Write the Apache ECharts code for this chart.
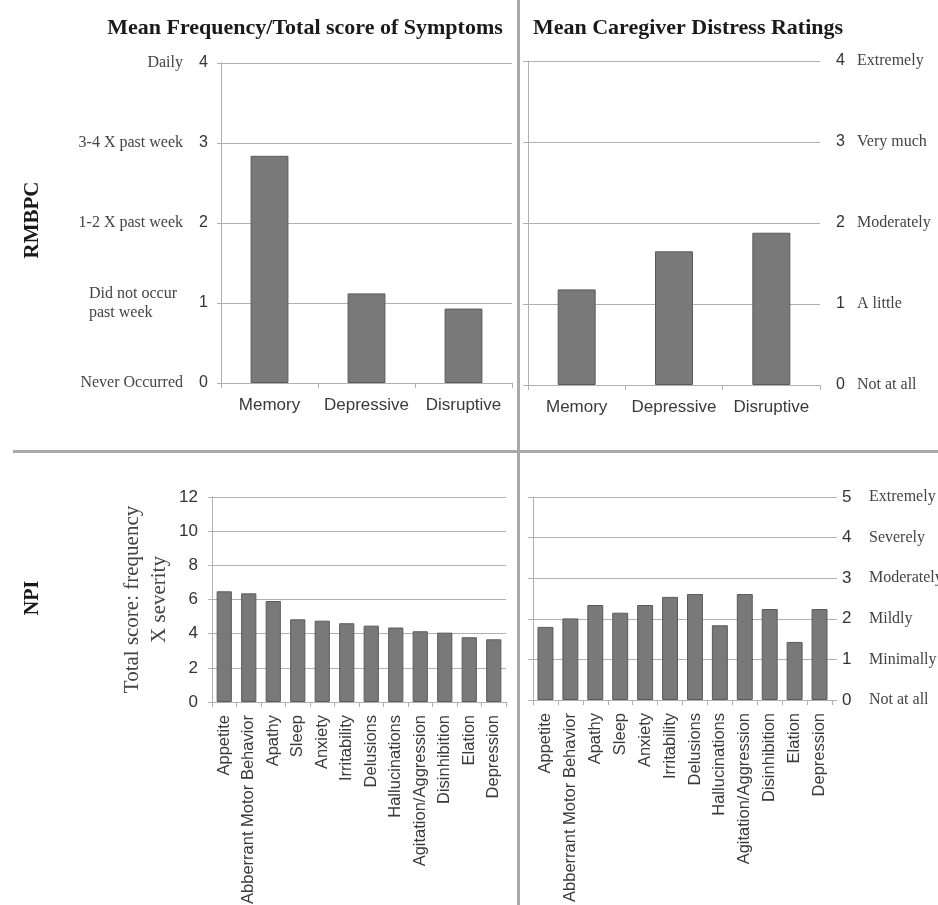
<!DOCTYPE html>
<html>
<head>
<meta charset="utf-8">
<style>
  html, body { margin: 0; padding: 0; background: #ffffff; }
  #chart { width: 938px; height: 905px; }
</style>
<script src="https://cdn.jsdelivr.net/npm/echarts@6/dist/echarts.min.js"></script>
</head>
<body>
<div id="chart"></div>
<script>
// ---------- Data ----------
const rmbpcCategories = ['Memory', 'Depressive', 'Disruptive'];
const rmbpcFrequency = [2.84, 1.12, 0.93];
const rmbpcDistress = [1.18, 1.65, 1.88];

const npiCategories = ['Appetite', 'Abberrant Motor Behavior', 'Apathy', 'Sleep', 'Anxiety',
  'Irritability', 'Delusions', 'Hallucinations', 'Agitation/Aggression', 'Disinhibition',
  'Elation', 'Depression'];
const npiTotalScore = [6.48, 6.36, 5.91, 4.84, 4.76, 4.61, 4.47, 4.36, 4.14, 4.06, 3.79, 3.67];
const npiDistress = [1.80, 2.01, 2.34, 2.15, 2.34, 2.54, 2.61, 1.84, 2.61, 2.24, 1.43, 2.24];

const rmbpcFrequencyLabels = ['Never Occurred', 'Did not occur\npast week', '1-2 X past week', '3-4 X past week', 'Daily'];
const rmbpcDistressLabels = ['Not at all', 'A little', 'Moderately', 'Very much', 'Extremely'];
const npiDistressLabels = ['Not at all', 'Minimally', 'Mildly', 'Moderately', 'Severely', 'Extremely'];

const titleLeft = 'Mean Frequency/Total score of Symptoms';
const titleRight = 'Mean Caregiver Distress Ratings';
const rowLabelTop = 'RMBPC';
const rowLabelBottom = 'NPI';
const npiAxisName = 'Total score: frequency\nX severity';

// ---------- Styles ----------
const SANS = 'Liberation Sans, Arial, sans-serif';
const SERIF = 'Liberation Serif, Times New Roman, serif';
const LINE = '#b0b0b0';
const barStyle = { color: '#797979', borderColor: '#5a5a5a', borderWidth: 1 };

function catAxis(gridIndex, data, opts) {
  return Object.assign({
    type: 'category', gridIndex: gridIndex, data: data,
    axisLine: { show: true, lineStyle: { color: LINE, width: 1 } },
    axisTick: { show: true, length: 5, lineStyle: { color: LINE } },
    axisLabel: { color: '#3a3a3a', fontFamily: SANS, fontSize: 17, margin: 14, interval: 0 },
    splitLine: { show: false }
  }, opts || {});
}

function valAxis(gridIndex, max, interval, opts) {
  return Object.assign({
    type: 'value', gridIndex: gridIndex, min: 0, max: max, interval: interval
  }, opts);
}

const chart = echarts.init(document.getElementById('chart'), null, { renderer: 'canvas' });

const option = {
  backgroundColor: '#ffffff',
  animation: false,
  grid: [
    { left: 221, top: 63, width: 291, height: 320, containLabel: false, outerBoundsMode: 'none' },
    { left: 528, top: 61, width: 292, height: 324, containLabel: false, outerBoundsMode: 'none' },
    { left: 212, top: 497, width: 294, height: 205, containLabel: false, outerBoundsMode: 'none' },
    { left: 533, top: 497, width: 299, height: 203, containLabel: false, outerBoundsMode: 'none' }
  ],
  xAxis: [
    catAxis(0, rmbpcCategories),
    catAxis(1, rmbpcCategories),
    catAxis(2, npiCategories, { axisLabel: { color: '#3a3a3a', fontFamily: SANS, fontSize: 16.5, margin: 13, rotate: 90, interval: 0 } }),
    catAxis(3, npiCategories, { axisLabel: { color: '#3a3a3a', fontFamily: SANS, fontSize: 16.5, margin: 13, rotate: 90, interval: 0 } })
  ],
  yAxis: [
    // 0: top-left numbers
    valAxis(0, 4, 1, {
      position: 'left',
      axisLine: { show: true, lineStyle: { color: LINE } },
      axisTick: { show: true, length: 4, lineStyle: { color: LINE } },
      splitLine: { show: true, lineStyle: { color: LINE, width: 1 } },
      axisLabel: { color: '#333', fontFamily: SANS, fontSize: 16, margin: 13 }
    }),
    // 1: top-left descriptions
    valAxis(0, 4, 1, {
      position: 'left', offset: 30,
      axisLine: { show: false }, axisTick: { show: false }, splitLine: { show: false },
      axisLabel: {
        color: '#444', fontFamily: SERIF, fontSize: 16, margin: 8, lineHeight: 19,
        formatter: function (v) {
          const t = rmbpcFrequencyLabels[Math.round(v)];
          return t.indexOf('\n') >= 0 ? '{m|' + t + '}' : t;
        },
        rich: { m: { fontFamily: SERIF, fontSize: 16, color: '#444', width: 94, align: 'left', lineHeight: 19 } }
      }
    }),
    // 2: top-right left axis line
    valAxis(1, 4, 1, {
      position: 'left',
      axisLine: { show: true, lineStyle: { color: LINE } },
      axisTick: { show: true, length: 5, lineStyle: { color: LINE } },
      splitLine: { show: true, lineStyle: { color: LINE, width: 1 } },
      axisLabel: { show: false }
    }),
    // 3: top-right numbers (right)
    valAxis(1, 4, 1, {
      position: 'right',
      axisLine: { show: false }, axisTick: { show: false }, splitLine: { show: false },
      axisLabel: { color: '#333', fontFamily: SANS, fontSize: 16, margin: 16 }
    }),
    // 4: top-right descriptions
    valAxis(1, 4, 1, {
      position: 'right', offset: 29,
      axisLine: { show: false }, axisTick: { show: false }, splitLine: { show: false },
      axisLabel: {
        color: '#444', fontFamily: SERIF, fontSize: 16, margin: 8,
        formatter: function (v) { return rmbpcDistressLabels[Math.round(v)]; }
      }
    }),
    // 5: bottom-left numbers with name
    valAxis(2, 12, 2, {
      position: 'left',
      name: npiAxisName, nameLocation: 'middle', nameRotate: 90, nameGap: 39,
      nameTextStyle: { color: '#444', fontFamily: SERIF, fontSize: 21, lineHeight: 27 },
      axisLine: { show: true, lineStyle: { color: LINE } },
      axisTick: { show: true, length: 4, lineStyle: { color: LINE } },
      splitLine: { show: true, lineStyle: { color: LINE, width: 1 } },
      axisLabel: { color: '#333', fontFamily: SANS, fontSize: 17, margin: 14 }
    }),
    // 6: bottom-right left axis line
    valAxis(3, 5, 1, {
      position: 'left',
      axisLine: { show: true, lineStyle: { color: LINE } },
      axisTick: { show: true, length: 5, lineStyle: { color: LINE } },
      splitLine: { show: true, lineStyle: { color: LINE, width: 1 } },
      axisLabel: { show: false }
    }),
    // 7: bottom-right numbers
    valAxis(3, 5, 1, {
      position: 'right',
      axisLine: { show: false },
      axisTick: { show: true, length: 5, lineStyle: { color: LINE } },
      splitLine: { show: false },
      axisLabel: { color: '#333', fontFamily: SANS, fontSize: 17, margin: 10 }
    }),
    // 8: bottom-right descriptions
    valAxis(3, 5, 1, {
      position: 'right', offset: 29,
      axisLine: { show: false }, axisTick: { show: false }, splitLine: { show: false },
      axisLabel: {
        color: '#444', fontFamily: SERIF, fontSize: 16, margin: 8,
        formatter: function (v) { return npiDistressLabels[Math.round(v)]; }
      }
    })
  ],
  series: [
    { type: 'bar', xAxisIndex: 0, yAxisIndex: 0, data: rmbpcFrequency, barWidth: '39%', itemStyle: barStyle },
    { type: 'bar', xAxisIndex: 1, yAxisIndex: 2, data: rmbpcDistress, barWidth: '39%', itemStyle: barStyle },
    { type: 'bar', xAxisIndex: 2, yAxisIndex: 5, data: npiTotalScore, barWidth: '62%', itemStyle: barStyle },
    { type: 'bar', xAxisIndex: 3, yAxisIndex: 6, data: npiDistress, barWidth: '64%', itemStyle: barStyle }
  ],
  graphic: [
    // panel dividers
    { type: 'line', shape: { x1: 518.5, y1: 0, x2: 518.5, y2: 905 }, style: { stroke: '#a9a9a9', lineWidth: 3 }, z: 10 },
    { type: 'line', shape: { x1: 13, y1: 451.5, x2: 938, y2: 451.5 }, style: { stroke: '#a9a9a9', lineWidth: 3 }, z: 10 },
    // titles
    { type: 'text', x: 305, y: 28, style: { text: titleLeft, font: 'bold 22px ' + SERIF, fill: '#1a1a1a', textAlign: 'center', textVerticalAlign: 'middle' } },
    { type: 'text', x: 688, y: 28, style: { text: titleRight, font: 'bold 22px ' + SERIF, fill: '#1a1a1a', textAlign: 'center', textVerticalAlign: 'middle' } },
    // row labels
    { type: 'text', x: 33, y: 220, rotation: Math.PI / 2, style: { text: rowLabelTop, font: 'bold 21px ' + SERIF, fill: '#1a1a1a', textAlign: 'center', textVerticalAlign: 'middle' } },
    { type: 'text', x: 33, y: 598, rotation: Math.PI / 2, style: { text: rowLabelBottom, font: 'bold 20px ' + SERIF, fill: '#1a1a1a', textAlign: 'center', textVerticalAlign: 'middle' } }
  ]
};

chart.setOption(option);
</script>
</body>
</html>
